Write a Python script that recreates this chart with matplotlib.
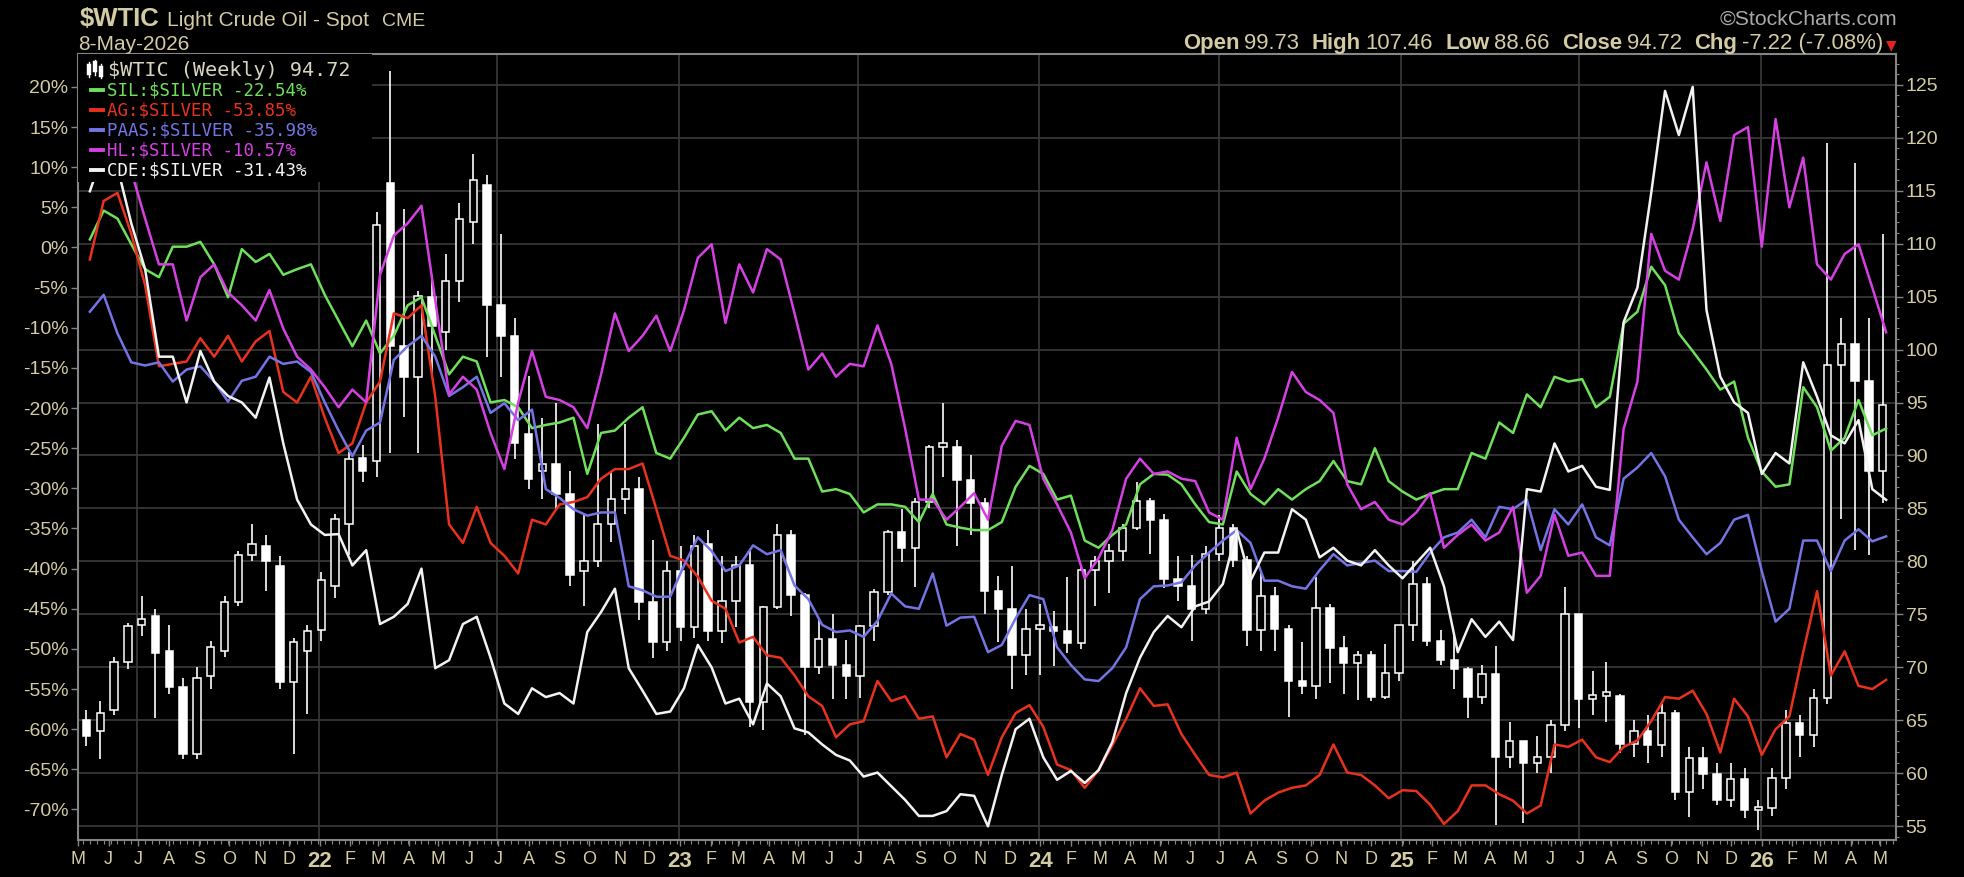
import numpy as np
import pandas as pd
import matplotlib
matplotlib.use("Agg")
import matplotlib.pyplot as plt
import matplotlib.dates as mdates
from matplotlib.patches import Rectangle
from matplotlib.lines import Line2D
from matplotlib.ticker import MultipleLocator, FuncFormatter

# ---------------- data (bi-weekly samples) ----------------
dates = pd.date_range(end="2026-05-08", periods=131, freq="14D")

wtic_open = [65.0, 64.0, 66.0, 70.5, 74.0, 74.8, 71.5, 68.1, 61.8, 69.2, 71.5, 76.2, 80.6, 81.5, 79.6, 68.6, 71.5, 73.5, 77.7, 83.5, 89.8, 89.5, 115.7,
             100.3, 97.4, 105.0, 101.7, 106.5, 112.0, 115.5, 104.2, 101.3, 92.0, 88.5, 89.2, 86.4, 79.1, 80.0, 83.5, 85.9, 86.8, 76.2, 72.4, 79.1, 73.8, 81.6,
             73.4, 76.3, 79.7, 66.7, 75.7, 82.5, 76.8, 70.0, 72.7, 70.2, 69.2, 73.9, 77.1, 82.8, 81.3, 85.6, 90.8, 90.8, 87.7, 85.5, 77.2, 75.5,
             71.2, 73.6, 73.8, 73.4, 72.3, 79.2, 80.0, 81.0, 83.2, 85.7, 83.9, 78.3, 77.7, 75.5, 80.7, 83.2, 80.1, 73.5, 76.7, 73.6, 68.7, 68.2,
             75.6, 71.8, 70.4, 71.2, 67.2, 69.5, 74.0, 77.9, 72.5, 70.7, 69.8, 67.2, 69.4, 61.5, 63.0, 61.0, 61.5, 64.6, 75.0, 67.0, 67.3, 67.3, 62.8,
             64.0, 62.7, 65.7, 58.2, 61.4, 59.9, 57.5, 59.5, 56.5, 56.7, 59.6, 64.7, 63.6, 67.1, 98.5, 100.5, 97.0, 88.5]
wtic_high = [66.0, 66.8, 71.0, 74.2, 76.7, 75.5, 74.0, 69.0, 70.0, 72.5, 76.7, 81.0, 83.5, 82.5, 80.5, 72.8, 74.0, 79.0, 84.5, 90.3, 91.0, 113.0, 126.3,
             113.3, 105.5, 107.0, 109.0, 113.8, 118.5, 116.5, 110.9, 103.0, 97.5, 93.5, 95.0, 88.5, 84.5, 93.0, 88.5, 93.0, 88.0, 82.0, 80.0, 81.5, 82.5, 83.0,
             80.5, 80.5, 81.0, 75.8, 83.5, 83.0, 77.0, 74.7, 75.0, 72.6, 74.0, 77.4, 83.0, 84.9, 86.0, 91.0, 95.0, 91.5, 90.0, 86.0, 78.6, 79.6,
             75.5, 76.0, 75.3, 78.5, 79.5, 80.5, 81.6, 83.5, 87.5, 86.0, 84.5, 80.5, 80.6, 81.5, 84.4, 83.5, 80.5, 78.9, 77.6, 74.0, 72.4, 78.5,
             76.0, 73.0, 71.5, 71.5, 72.2, 74.0, 80.0, 78.5, 73.5, 73.0, 70.0, 70.2, 72.0, 64.8, 63.0, 63.5, 65.0, 77.6, 75.0, 69.7, 70.5, 67.5, 65.0,
             65.5, 66.5, 66.0, 62.5, 62.5, 61.0, 61.0, 60.5, 57.5, 60.5, 66.0, 65.5, 68.0, 119.5, 103.0, 117.6, 103.0, 110.9]
wtic_low = [62.6, 61.3, 65.5, 69.8, 73.0, 65.2, 67.5, 61.3, 61.3, 68.0, 71.0, 75.8, 80.0, 77.2, 68.0, 61.8, 65.6, 72.5, 76.5, 80.6, 87.5, 88.0, 90.2,
            93.6, 90.2, 97.4, 100.0, 104.5, 110.0, 99.3, 97.4, 89.7, 86.8, 85.9, 84.9, 77.7, 75.8, 79.5, 81.8, 84.5, 74.5, 70.9, 71.5, 72.5, 72.8, 72.5,
            72.3, 73.8, 64.4, 64.1, 75.5, 74.8, 63.6, 69.4, 67.0, 67.0, 67.1, 72.5, 76.8, 79.9, 77.6, 85.0, 88.0, 81.5, 82.5, 75.0, 72.4, 68.0,
            69.3, 69.3, 70.1, 71.4, 71.7, 75.8, 77.0, 80.0, 83.0, 80.7, 77.5, 76.3, 72.5, 75.0, 80.0, 79.5, 72.0, 71.5, 71.5, 65.3, 67.5, 67.0,
            68.5, 67.5, 66.9, 66.8, 67.0, 68.7, 72.5, 72.0, 70.2, 68.0, 65.2, 66.5, 55.1, 60.5, 55.3, 60.0, 60.0, 64.0, 64.3, 65.5, 64.8, 61.9, 61.5,
            61.0, 61.5, 57.5, 55.9, 58.5, 57.0, 56.8, 55.8, 54.6, 56.0, 58.5, 61.5, 62.5, 66.5, 84.0, 81.1, 80.6, 85.5]
wtic_close = [63.5, 65.7, 70.5, 73.9, 74.6, 71.4, 68.1, 61.8, 69.0, 71.9, 76.2, 80.6, 81.6, 80.0, 68.6, 72.4, 73.4, 78.2, 84.0, 89.7, 88.5, 111.8, 100.3,
              97.4, 105.1, 102.2, 106.5, 112.3, 116.0, 104.2, 101.3, 91.2, 87.8, 89.2, 86.4, 78.7, 80.0, 83.5, 85.9, 86.8, 76.2, 72.4, 79.1, 73.8, 81.5, 73.4,
              76.3, 79.7, 66.7, 75.7, 82.5, 76.8, 70.0, 72.7, 70.2, 69.2, 73.9, 77.1, 82.8, 81.3, 85.6, 90.8, 90.8, 87.7, 85.5, 77.2, 75.5, 71.2,
              73.6, 73.8, 73.4, 72.3, 79.2, 80.0, 81.0, 83.2, 85.7, 83.9, 78.3, 77.7, 75.5, 80.7, 83.2, 80.1, 73.5, 76.7, 73.6, 68.7, 68.2, 75.6,
              71.8, 70.4, 71.2, 67.2, 69.5, 74.0, 77.9, 72.5, 70.7, 69.8, 67.2, 69.4, 61.5, 63.0, 61.0, 61.5, 64.6, 75.0, 67.0, 67.3, 67.3, 62.8, 64.0,
              62.7, 65.7, 58.2, 61.4, 59.9, 57.5, 59.5, 56.5, 56.7, 59.6, 64.7, 63.6, 67.1, 98.5, 100.5, 97.0, 88.5, 94.72]

sil = [1.0, 4.6, 3.6, 0.4, -2.7, -3.7, 0.1, 0.1, 0.7, -2.1, -6.2, -0.2, -1.8, -0.8, -3.4, -2.7, -2.1, -5.9, -9.1, -12.3, -9.1, -13.2, -11.0,
       -7.2, -6.2, -11.0, -15.8, -13.6, -14.2, -19.3, -19.0, -19.9, -22.5, -22.1, -21.8, -21.2, -28.2, -23.1, -22.8, -21.2, -19.9, -25.6, -26.3, -23.7, -20.8, -20.4,
       -22.8, -21.2, -22.5, -22.1, -23.1, -26.3, -26.3, -30.4, -30.1, -30.7, -33.0, -32.0, -32.0, -32.3, -34.2, -30.7, -34.5, -34.9, -35.2, -35.2, -34.2, -29.8,
       -27.2, -28.2, -31.4, -30.9, -36.5, -37.4, -35.8, -34.5, -29.5, -28.2, -28.3, -29.5, -32.0, -34.2, -34.5, -27.9, -30.7, -32.0, -30.1, -31.4, -30.1, -29.1,
       -26.6, -29.1, -29.5, -25.0, -29.1, -30.4, -31.4, -30.7, -30.1, -30.1, -25.6, -26.3, -21.8, -23.1, -18.3, -19.9, -16.1, -16.7, -16.4, -19.9, -18.6, -9.5, -8.0,
       -2.4, -4.7, -10.7, -12.9, -15.2, -17.7, -16.7, -23.7, -27.9, -29.8, -29.5, -17.4, -19.9, -25.3, -23.7, -19.0, -23.4, -22.54]
ag = [-1.5, 5.8, 6.8, 1.7, -4.7, -14.8, -14.5, -14.2, -11.3, -13.6, -11.0, -14.2, -11.7, -10.4, -18.0, -19.3, -16.1, -21.2, -25.6, -24.4, -19.3, -16.7, -8.2,
      -8.8, -7.2, -18.6, -34.5, -36.8, -32.3, -36.8, -38.4, -40.6, -33.9, -34.5, -32.0, -31.7, -31.1, -28.8, -27.6, -27.6, -26.9, -32.6, -38.4, -39.0, -41.0, -44.0,
      -45.0, -49.2, -48.5, -50.8, -51.1, -53.3, -55.9, -57.1, -61.0, -59.4, -59.0, -54.0, -56.5, -55.9, -58.7, -58.4, -63.5, -60.6, -61.3, -65.7, -61.0, -58.0,
      -57.0, -59.7, -64.4, -65.1, -67.3, -65.1, -62.0, -58.7, -54.9, -57.1, -56.9, -60.6, -63.2, -65.7, -66.0, -65.4, -70.5, -68.9, -67.9, -67.3, -67.0, -65.7,
      -61.9, -65.4, -65.7, -67.0, -68.6, -67.6, -67.7, -69.4, -71.8, -70.2, -67.0, -67.0, -68.1, -68.9, -70.5, -69.5, -61.9, -62.2, -61.3, -63.5, -64.1, -62.2, -61.4,
      -59.0, -56.0, -56.2, -55.2, -58.1, -62.9, -56.2, -58.4, -63.2, -60.0, -58.4, -50.4, -42.8, -53.3, -50.3, -54.6, -55.0, -53.85]
paas = [-8.0, -5.9, -10.7, -14.3, -14.7, -14.3, -16.7, -15.2, -14.8, -16.7, -19.2, -16.6, -16.1, -13.6, -14.5, -14.2, -15.5, -19.3, -22.8, -26.0, -22.8, -21.8, -14.0,
        -12.3, -11.0, -13.6, -18.5, -17.4, -16.1, -20.6, -19.4, -21.5, -20.2, -30.1, -31.2, -32.6, -33.4, -33.0, -33.0, -42.2, -42.7, -43.5, -43.5, -39.6, -36.1, -37.8,
        -40.3, -39.6, -37.1, -38.2, -37.7, -42.1, -43.8, -47.0, -47.9, -47.7, -48.5, -46.5, -43.1, -44.7, -45.0, -40.6, -47.1, -46.1, -46.0, -50.4, -49.5, -46.2,
        -43.3, -43.8, -49.8, -52.0, -53.8, -54.0, -52.4, -49.8, -43.8, -42.2, -42.1, -41.7, -39.6, -38.0, -36.5, -35.2, -36.8, -41.5, -41.5, -42.2, -42.5, -40.2,
        -38.2, -39.6, -39.3, -39.0, -40.3, -40.3, -40.4, -38.0, -36.1, -35.5, -33.9, -36.1, -32.3, -32.6, -31.4, -37.7, -32.6, -34.5, -32.0, -36.1, -37.1, -28.8, -27.4,
        -25.6, -28.5, -33.9, -36.1, -38.2, -36.8, -33.9, -33.3, -40.3, -46.6, -45.0, -36.5, -36.5, -40.3, -36.5, -35.1, -36.6, -35.98]
hl = [9.0, 12.0, 11.0, 9.5, 3.6, -2.1, -2.1, -9.1, -3.7, -2.1, -5.6, -7.2, -9.1, -5.3, -10.1, -13.6, -15.2, -17.4, -19.9, -17.7, -19.3, -3.4, 1.5,
      3.0, 5.2, -6.6, -18.3, -16.1, -17.7, -23.1, -27.6, -19.3, -12.9, -18.6, -19.0, -19.9, -22.5, -15.8, -8.2, -12.9, -11.0, -8.5, -12.9, -7.8, -1.3, 0.4,
      -9.4, -2.1, -5.6, -0.2, -1.5, -8.2, -15.2, -13.2, -16.1, -14.5, -14.8, -9.7, -14.5, -22.5, -31.4, -31.4, -33.9, -32.3, -30.6, -33.9, -24.7, -21.6,
      -22.1, -28.8, -32.0, -35.5, -41.2, -38.7, -35.2, -28.8, -26.3, -28.2, -27.9, -28.8, -29.1, -33.0, -33.9, -23.7, -30.1, -26.3, -21.2, -15.5, -18.0, -19.0,
      -20.6, -29.5, -32.6, -31.7, -33.9, -34.5, -33.0, -30.6, -37.4, -35.8, -34.5, -36.5, -35.5, -32.3, -43.0, -40.9, -33.3, -38.4, -38.0, -40.9, -40.9, -22.6, -16.7,
      1.7, -2.9, -4.0, 2.3, 10.6, 3.3, 14.0, 15.0, 0.1, 16.0, 5.0, 11.2, -2.1, -4.0, -0.8, 0.4, -5.0, -10.57]
cde = [7.0, 12.0, 10.0, 3.0, -2.7, -13.6, -13.6, -19.3, -12.9, -16.7, -18.5, -19.3, -21.2, -16.2, -24.4, -31.4, -34.5, -35.8, -35.7, -39.6, -37.7, -46.9, -46.0,
       -44.4, -40.0, -52.4, -51.4, -46.9, -46.0, -51.1, -56.8, -58.1, -54.9, -56.0, -55.5, -56.8, -47.9, -45.4, -42.5, -52.4, -55.2, -58.1, -57.8, -54.9, -49.5, -52.3,
       -56.8, -56.2, -59.4, -54.3, -55.9, -59.9, -60.4, -61.9, -63.2, -63.9, -65.9, -65.4, -67.1, -68.8, -70.8, -70.8, -70.2, -68.1, -68.3, -72.1, -65.7, -60.0,
       -58.7, -63.5, -66.3, -65.2, -66.7, -65.1, -61.6, -55.5, -51.1, -47.9, -45.9, -47.3, -44.7, -44.1, -41.9, -35.2, -41.5, -38.0, -38.0, -32.6, -33.9, -38.6,
       -37.4, -39.0, -39.6, -37.7, -39.6, -41.2, -39.3, -37.4, -42.2, -50.4, -46.3, -48.5, -46.6, -48.9, -30.1, -30.4, -24.4, -27.9, -27.2, -29.8, -30.2, -9.3, -5.0,
       6.8, 19.5, 14.0, 20.0, -7.8, -16.1, -19.3, -20.6, -28.2, -25.6, -26.9, -14.3, -18.6, -23.4, -24.4, -21.5, -30.1, -31.43]

series_names = ["SIL:$SILVER", "AG:$SILVER", "PAAS:$SILVER", "HL:$SILVER", "CDE:$SILVER"]
series_values = [sil, ag, paas, hl, cde]
series_colors = ["#6fe05a", "#e8321e", "#7474e4", "#d540e2", "#f2f2f2"]

pct_ticks = list(range(-70, 21, 5))
price_ticks = list(range(55, 126, 5))
header_stats = [("Open", "99.73"), ("High", "107.46"), ("Low", "88.66"),
                ("Close", "94.72"), ("Chg", "-7.22 (-7.08%)")]
last_close = "94.72"

for arr in [wtic_open, wtic_high, wtic_low, wtic_close] + series_values:
    assert len(arr) == len(dates), len(arr)

# ---------------- style ----------------
BEIGE = "#d3cba3"
GRID = "#3a3a3a"
FRAME = "#858585"
NARROW = ["Liberation Sans Narrow", "Liberation Sans", "DejaVu Sans"]
SANS = ["Liberation Sans", "DejaVu Sans"]
MONO = ["DejaVu Sans Mono"]
plt.rcParams["font.family"] = SANS

W, H = 1964, 877
fig = plt.figure(figsize=(W / 100, H / 100), dpi=100, facecolor="black")
renderer = fig.canvas.get_renderer()


def fx(px):
    return px / W


def fy(py):
    return 1 - py / H


def fit(t, width):
    bb = t.get_window_extent(renderer=renderer)
    if bb.width > 0:
        t.set_fontsize(t.get_fontsize() * width / bb.width)
    return t


L, R, T, B = 78, 1896, 54, 840
ax_c = fig.add_axes([fx(L), fy(B), (R - L) / W, (B - T) / H])
ax_c.set_facecolor("black")
ax_c.xaxis_date()
ax_l = ax_c.twinx()

ax_c.set_xlim(pd.Timestamp("2021-05-06"), pd.Timestamp("2026-05-18"))
ax_c.set_ylim(53.7, 127.9)
ax_l.set_ylim(-73.8, 24.1)

# grid
for yv in price_ticks:
    ax_c.axhline(yv, color=GRID, lw=1.2, zorder=0)
for d in pd.date_range("2021-07-01", "2026-01-01", freq="MS"):
    if d.month in (1, 7):
        ax_c.axvline(d, color=GRID, lw=1.2, zorder=0)

# candles
xnum = mdates.date2num(dates.to_pydatetime()) - 3.5
o = np.array(wtic_open)
h = np.array(wtic_high)
lo = np.array(wtic_low)
c = np.array(wtic_close)
up = c >= o
ax_c.vlines(xnum, lo, h, color="white", lw=1.2, zorder=2)
ax_c.bar(xnum, np.maximum(np.abs(c - o), 0.35), bottom=np.minimum(o, c), width=7.5,
         color=np.where(up, "black", "white"), edgecolor="white", linewidth=1.1, zorder=3)

# ratio lines
for vals, col in zip(series_values, series_colors):
    ax_l.plot(dates, vals, color=col, lw=1.8, zorder=4, solid_joinstyle="round")

# x ticks
months = pd.date_range("2021-05-01", "2026-05-01", freq="MS")
ax_c.set_xticks(mdates.date2num(months.to_pydatetime()) + 1)
ax_c.set_xticklabels([m.strftime("%y") if m.month == 1 else m.strftime("%b")[0] for m in months])
ax_c.xaxis.set_minor_locator(mdates.WeekdayLocator(byweekday=mdates.FR))
ax_c.tick_params(axis="x", which="major", length=4, width=1, color=FRAME, labelcolor=BEIGE,
                 labelsize=13, pad=4)
ax_c.tick_params(axis="x", which="minor", length=3, width=0.8, color=FRAME)
for lab, m in zip(ax_c.get_xticklabels(), months):
    if m.month == 1:
        lab.set_fontweight("bold")
        lab.set_fontsize(16)

# y ticks
ax_c.yaxis.tick_right()
ax_c.set_yticks(price_ticks)
ax_c.yaxis.set_minor_locator(MultipleLocator(1))
ax_c.tick_params(axis="y", which="major", length=5, width=1, color=FRAME, labelcolor=BEIGE,
                 labelsize=14, pad=2)
ax_c.tick_params(axis="y", which="minor", length=2.5, width=0.8, color=FRAME)
ax_l.yaxis.tick_left()
ax_l.set_yticks(pct_ticks)
ax_l.yaxis.set_major_formatter(FuncFormatter(lambda v, p: f"{v:.0f}%"))
ax_l.tick_params(axis="y", which="major", length=5, width=1, color=FRAME, labelcolor=BEIGE,
                 labelsize=14, pad=2)

for s in ax_c.spines.values():
    s.set_color(FRAME)
    s.set_linewidth(1.5)
for s in ax_l.spines.values():
    s.set_visible(False)

# legend box
leg_h = (182 - T) / (B - T)
ax_l.add_patch(Rectangle((0, 1 - leg_h), (372 - L) / (R - L), leg_h, transform=ax_l.transAxes,
                         facecolor="black", edgecolor="none", zorder=20))

# legend: candle icon
for xi, (y0, y1, b0, b1) in zip([89, 95, 101], [(62, 77, 66, 73), (60, 75, 63, 70), (64, 78, 68, 75)]):
    fig.add_artist(Line2D([fx(xi), fx(xi)], [fy(y0), fy(y1)], transform=fig.transFigure,
                          color="white", lw=1.0))
    fig.add_artist(Line2D([fx(xi), fx(xi)], [fy(b0), fy(b1)], transform=fig.transFigure,
                          color="white", lw=3.2))
fig.text(fx(108), fy(70), f"$WTIC (Weekly) {last_close}", family=MONO, fontsize=14.5,
         color="#d8d4bf", va="center", ha="left")
for k, (name, vals, col) in enumerate(zip(series_names, series_values, series_colors)):
    yc = 90 + 20 * k
    fig.add_artist(Line2D([fx(91), fx(103)], [fy(yc), fy(yc)], transform=fig.transFigure,
                          color=col, lw=2.8))
    fig.text(fx(107), fy(yc), f"{name} {vals[-1]:.2f}%", family=MONO, fontsize=12.6,
             color=col, va="center", ha="left")

# header (left)
t = fig.text(fx(80), fy(26), "$WTIC", family=NARROW, weight="bold", fontsize=20, color=BEIGE,
             va="baseline")
fit(t, 80)
t = fig.text(fx(167), fy(26), "Light Crude Oil - Spot", family=NARROW, fontsize=15, color=BEIGE,
             va="baseline")
fit(t, 203)
t = fig.text(fx(382), fy(26), "CME", family=NARROW, fontsize=14, color=BEIGE, va="baseline")
fit(t, 43)
t = fig.text(fx(78), fy(50), "8-May-2026", family=NARROW, fontsize=14, color=BEIGE, va="baseline")
fit(t, 112)

# header (right)
t = fig.text(fx(1897), fy(25), "\u00a9StockCharts.com", family=NARROW, fontsize=14,
             color="#a9a9a9", va="baseline", ha="right")
fit(t, 178)

pieces = []
for lab, val in header_stats:
    pieces.append((lab, dict(weight="bold", family=NARROW, color=BEIGE), 4))
    pieces.append((val, dict(weight="normal", family=NARROW, color=BEIGE), 11))
pieces[-1] = (pieces[-1][0], pieces[-1][1], 3)
pieces.append(("\u25bc", dict(weight="normal", family=["DejaVu Sans"], color="#e02424"), 0))


def place(size, x0):
    arts = []
    x = x0
    for s, kw, gap in pieces:
        fs = size * (0.62 if s == "\u25bc" else 1.0)
        tt = fig.text(fx(x), fy(49), s, fontsize=fs, va="baseline", ha="left", **kw)
        w = tt.get_window_extent(renderer=renderer).width
        x += w + gap * size / 14.0
        arts.append(tt)
    return arts, x


X0, X1 = 1178, 1897
arts, xe = place(14, X0)
scale = (X1 - X0) / (xe - X0)
for a in arts:
    a.remove()
arts, xe = place(14 * scale, X0)
shift = X1 - xe
for a in arts:
    px, py = a.get_position()
    a.set_position((px + shift / W, py))

fig.savefig("out.png", dpi=100, facecolor="black")
